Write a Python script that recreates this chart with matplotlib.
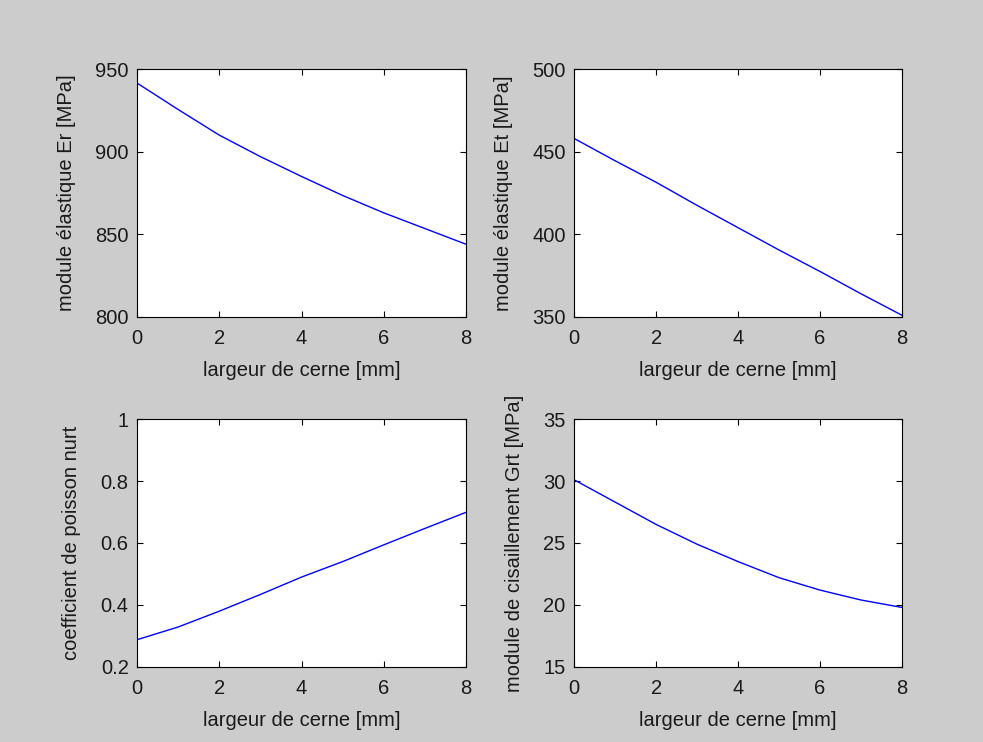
import matplotlib
matplotlib.use('Agg')
import matplotlib.pyplot as plt

# ===== data =====
largeur = [0, 1, 2, 3, 4, 5, 6, 7, 8]
Er = [941.5, 925.5, 910.0, 897.0, 885.0, 873.5, 863.0, 853.5, 844.0]
Et = [458.0, 444.5, 431.5, 417.5, 404.0, 390.5, 377.5, 364.0, 351.0]
nurt = [0.288, 0.329, 0.380, 0.434, 0.490, 0.540, 0.594, 0.647, 0.699]
Grt = [30.1, 28.3, 26.5, 24.9, 23.5, 22.2, 21.2, 20.4, 19.8]

xticks = [0, 2, 4, 6, 8]
xlabel = "largeur de cerne [mm]"

panels = [
    (Er, "module élastique Er [MPa]", (800, 950), [800, 850, 900, 950]),
    (Et, "module élastique Et [MPa]", (350, 500), [350, 400, 450, 500]),
    (nurt, "coefficient de poisson nurt", (0.2, 1.0), [0.2, 0.4, 0.6, 0.8, 1.0]),
    (Grt, "module de cisaillement Grt [MPa]", (15, 35), [15, 20, 25, 30, 35]),
]
ytick_labels = [
    ["800", "850", "900", "950"],
    ["350", "400", "450", "500"],
    ["0.2", "0.4", "0.6", "0.8", "1"],
    ["15", "20", "25", "30", "35"],
]

# axes positions in figure fraction (left, bottom, width, height)
positions = [
    [0.1394, 0.5728, 0.3347, 0.3342],
    [0.5840, 0.5728, 0.3337, 0.3342],
    [0.1394, 0.1011, 0.3347, 0.3342],
    [0.5840, 0.1011, 0.3337, 0.3342],
]

plt.rcParams['font.family'] = ['Liberation Sans', 'DejaVu Sans']
plt.rcParams['font.size'] = 14.5

fig = plt.figure(figsize=(9.83, 7.42), dpi=100, facecolor='#cccccc')

for (vals, ylab, ylim, yt), ytl, pos in zip(panels, ytick_labels, positions):
    ax = fig.add_axes(pos)
    ax.plot(largeur, vals, color='#0000ff', linewidth=1.0)
    ax.set_xlim(0, 8)
    ax.set_ylim(*ylim)
    ax.set_xticks(xticks)
    ax.set_xticklabels([str(t) for t in xticks])
    ax.set_yticks(yt)
    ax.set_yticklabels(ytl)
    ax.tick_params(direction='in', length=4, width=0.8, top=True, right=True,
                   colors='black', labelcolor='#1a1a1a')
    ax.tick_params(axis='x', pad=9)
    ax.tick_params(axis='y', pad=6)
    for sp in ax.spines.values():
        sp.set_linewidth(0.8)
    ax.set_xlabel(xlabel, color='#1a1a1a', labelpad=9)
    ax.set_ylabel(ylab, color='#1a1a1a', labelpad=14)

fig.savefig("out.png", dpi=100, facecolor=fig.get_facecolor())
